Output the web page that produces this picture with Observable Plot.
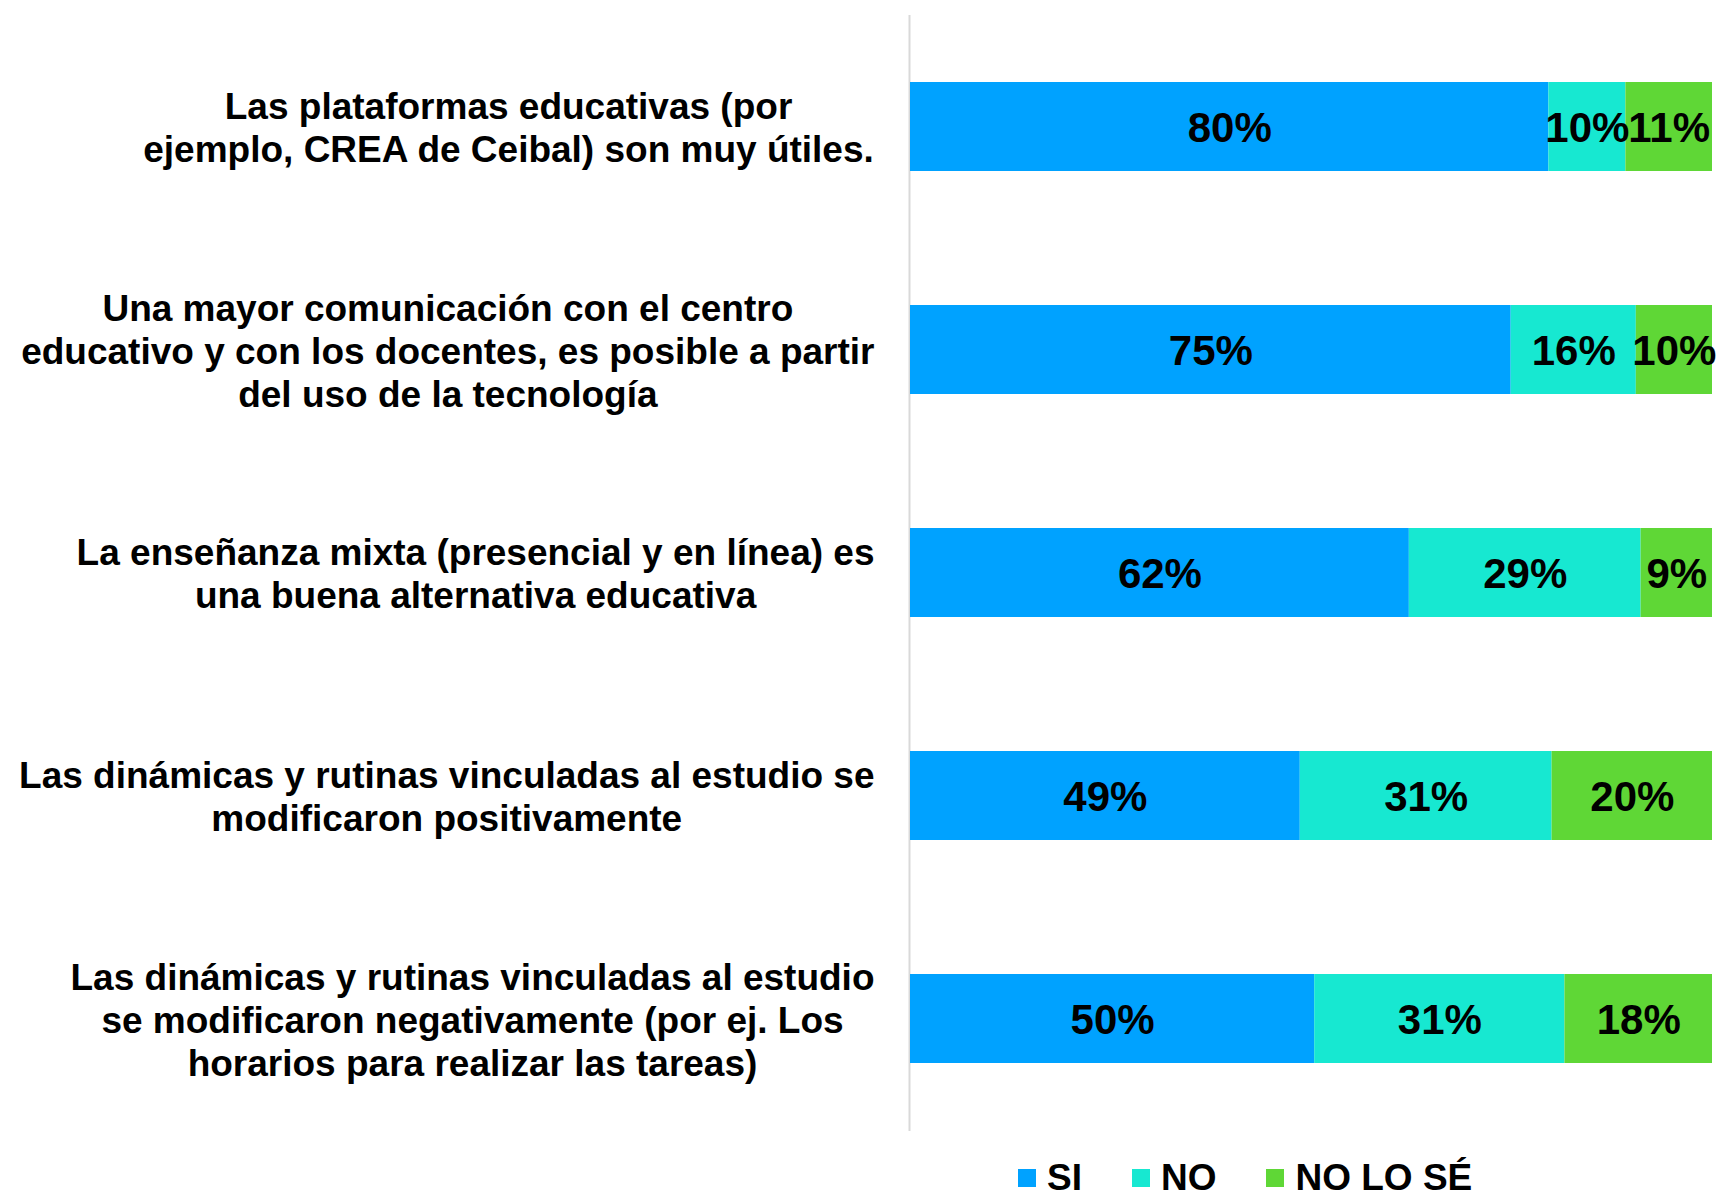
<!DOCTYPE html>
<html>
<head>
<meta charset="utf-8">
<script src="https://cdn.jsdelivr.net/npm/d3@7"></script>
<script src="https://cdn.jsdelivr.net/npm/@observablehq/plot@0.6"></script>
<style>
  html, body { margin: 0; padding: 0; background: #fff; }
  #chart svg { display: block; }
  #legend {
    display: flex; align-items: center;
    padding-left: 1018px; padding-top: 23px; height: 30px; line-height: 30px;
    font: bold 37px 'Liberation Sans', Arial, sans-serif; color: #000;
  }
  #legend .item { display: flex; align-items: center; margin-right: 50px; }
  #legend .sw { width: 18px; height: 18px; margin-right: 11px; }
</style>
</head>
<body>
<div id="chart"></div>
<div id="legend"></div>
<script>
const categories = [
  "Las plataformas educativas (por\nejemplo, CREA de Ceibal) son muy útiles.",
  "Una mayor comunicación con el centro\neducativo y con los docentes, es posible a partir\ndel uso de la tecnología",
  "La enseñanza mixta (presencial y en línea) es\nuna buena alternativa educativa",
  "Las dinámicas y rutinas vinculadas al estudio se\nmodificaron positivamente",
  "Las dinámicas y rutinas vinculadas al estudio\nse modificaron negativamente (por ej. Los\nhorarios para realizar las tareas)"
];
const seriesNames = ["SI", "NO", "NO LO SÉ"];
// shares (%); labels show the rounded value
const siValues = [79.6, 74.9, 62.2, 48.6, 50.4];
const noValues = [9.6, 15.6, 28.9, 31.4, 31.2];
const noLoSeValues = [10.8, 9.5, 8.9, 20.0, 18.4];
const seriesColors = ["#00A2FF", "#17E8D1", "#5FD736"];

const seriesValues = [siValues, noValues, noLoSeValues];
const rows = [];
categories.forEach((c, i) => {
  seriesNames.forEach((s, j) => rows.push({category: c, series: s, value: seriesValues[j][i]}));
});

const FONT = "'Liberation Sans', Arial, sans-serif";
const ctx = document.createElement("canvas").getContext("2d");
ctx.font = "bold 37px 'Liberation Sans'";
const labelGap = 36;
const labelMarks = categories.map(c => {
  const w = Math.max(...c.split("\n").map(l => ctx.measureText(l).width));
  return Plot.text([c], {
    y: d => d, text: d => d, frameAnchor: "left", textAnchor: "middle",
    dx: -(labelGap + w / 2), fontSize: 37, fontWeight: "bold", lineHeight: 1.16, fill: "#000"
  });
});

const chart = Plot.plot({
  width: 1722,
  height: 1140,
  marginLeft: 910,
  marginRight: 10,
  marginTop: 15,
  marginBottom: 9,
  style: {fontFamily: FONT, background: "#fff"},
  x: {axis: null, domain: [0, 1]},
  y: {axis: null, domain: categories, paddingInner: 0.6, paddingOuter: 0.3},
  color: {domain: seriesNames, range: seriesColors},
  marks: [
    Plot.ruleX([0], {stroke: "#d9d9d9", strokeWidth: 2, dx: -1}),
    Plot.barX(rows, Plot.stackX({offset: "normalize", x: "value", y: "category", fill: "series"})),
    Plot.text(rows, Plot.stackX({
      offset: "normalize", x: "value", y: "category", z: "series",
      text: d => Math.round(d.value) + "%", fontSize: 42, fontWeight: "bold", fill: "#000", dy: 2
    })),
    ...labelMarks
  ]
});
document.getElementById("chart").appendChild(chart);

const legend = document.getElementById("legend");
seriesNames.forEach((s, i) => {
  const item = document.createElement("div");
  item.className = "item";
  const sw = document.createElement("div");
  sw.className = "sw";
  sw.style.background = seriesColors[i];
  const t = document.createElement("span");
  t.textContent = s;
  item.appendChild(sw); item.appendChild(t);
  legend.appendChild(item);
});
</script>
</body>
</html>
